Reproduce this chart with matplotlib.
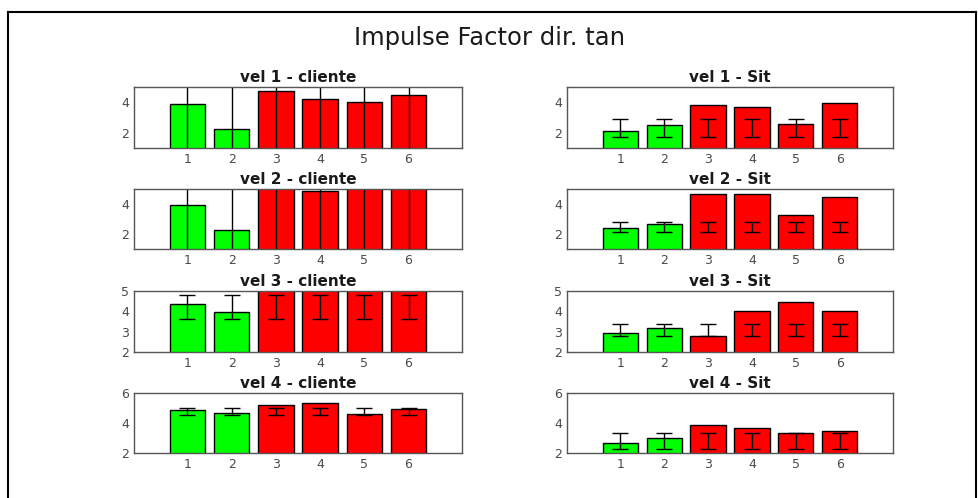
import matplotlib
matplotlib.use("Agg")
import matplotlib.pyplot as plt
from matplotlib.lines import Line2D

plt.rcParams['font.family'] = ['DejaVu Sans']

categories = [1, 2, 3, 4, 5, 6]
bar_colors = ['#00ff00', '#00ff00', '#ff0000', '#ff0000', '#ff0000', '#ff0000']

titles_left = ['vel 1 - cliente', 'vel 2 - cliente', 'vel 3 - cliente', 'vel 4 - cliente']
titles_right = ['vel 1 - Sit', 'vel 2 - Sit', 'vel 3 - Sit', 'vel 4 - Sit']

cliente_v1 = [3.87, 2.25, 4.76, 4.21, 4.00, 4.48]
cliente_v2 = [3.92, 2.27, 5.30, 4.87, 5.30, 5.30]
cliente_v3 = [4.36, 3.95, 5.40, 5.40, 5.40, 5.40]
cliente_v4 = [4.84, 4.70, 5.23, 5.36, 4.61, 4.92]
sit_v1 = [2.13, 2.53, 3.85, 3.67, 2.60, 3.98]
sit_v2 = [2.37, 2.68, 4.69, 4.69, 3.30, 4.45]
sit_v3 = [2.92, 3.16, 2.81, 4.00, 4.48, 4.00]
sit_v4 = [2.69, 3.00, 3.84, 3.69, 3.31, 3.47]

# error bar centres and half-widths (one per panel, same for every bar)
cliente_err_mid = [3.00, 3.00, 4.21, 4.77]
cliente_err_half = [4.00, 4.00, 0.57, 0.22]
sit_err_mid = [2.33, 2.49, 3.08, 2.80]
sit_err_half = [0.58, 0.34, 0.28, 0.55]

ylims = [(1, 5), (1, 5), (2, 5), (2, 6)]
yticks = [[2, 4], [2, 4], [2, 3, 4, 5], [2, 4, 6]]

cliente = [cliente_v1, cliente_v2, cliente_v3, cliente_v4]
sit = [sit_v1, sit_v2, sit_v3, sit_v4]

W, H = 979, 498
fig = plt.figure(figsize=(W / 100, H / 100), dpi=100)

rows_px = [(87, 148), (189, 249), (291, 352), (393, 453)]
cols_px = [(134, 462), (567, 893)]

tick_color = '#4a4a4a'
for r in range(4):
    for c in range(2):
        x0, x1 = cols_px[c]
        y0, y1 = rows_px[r]
        ax = fig.add_axes([x0 / W, 1 - y1 / H, (x1 - x0) / W, (y1 - y0) / H])
        vals = cliente[r] if c == 0 else sit[r]
        mid = cliente_err_mid[r] if c == 0 else sit_err_mid[r]
        half = cliente_err_half[r] if c == 0 else sit_err_half[r]
        ax.bar(categories, vals, width=0.8, color=bar_colors, edgecolor='black', linewidth=1.0)
        ax.errorbar(categories, [mid] * 6, yerr=[half] * 6, fmt='none', ecolor='black',
                    elinewidth=1.0, capsize=5.5, capthick=1.0)
        ax.set_xlim(-0.21, 7.21)
        ax.set_ylim(*ylims[r])
        ax.set_xticks(categories)
        ax.set_yticks(yticks[r])
        ax.tick_params(axis='both', length=0, labelsize=9, labelcolor=tick_color)
        ax.tick_params(axis='x', pad=3.5)
        ax.tick_params(axis='y', pad=3.5)
        for s in ax.spines.values():
            s.set_color('#555555')
            s.set_linewidth(1.0)
        ax.set_title(titles_left[r] if c == 0 else titles_right[r], fontsize=11,
                     fontweight='bold', color='#1a1a1a', pad=3.7)

fig.text(490 / W, 1 - 38 / H, 'Impulse Factor dir. tan', ha='center', va='center',
         fontsize=17.5, color='#1a1a1a')

# outer frame
fx0, fy0, fx1, fy1 = 8 / W, 1 - 12 / H, 976 / W, 1 - 497 / H
for xs, ys in [((fx0, fx1), (fy0, fy0)), ((fx0, fx0), (fy0, fy1)), ((fx1, fx1), (fy0, fy1))]:
    fig.add_artist(Line2D(xs, ys, transform=fig.transFigure, color='black', linewidth=1.5))

fig.savefig('out.png', dpi=100)
